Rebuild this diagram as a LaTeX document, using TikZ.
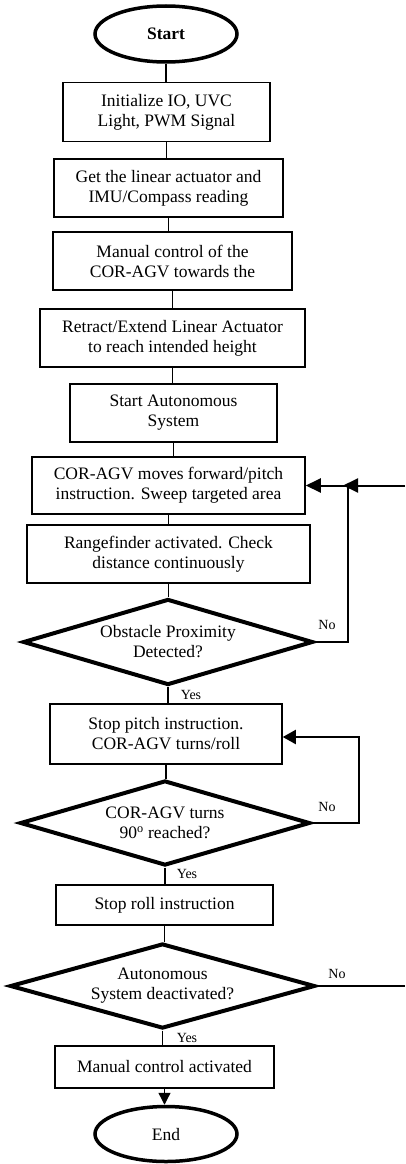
\documentclass[tikz,border=0pt]{standalone}
\usepackage{fontspec}
\setmainfont{Liberation Serif}
\usetikzlibrary{shapes.geometric,arrows.meta}

\begin{document}
\begin{tikzpicture}[x=1pt,y=-1pt,
  every node/.style={font=\fontsize{17.5}{20}\selectfont, align=center, inner sep=0pt},
  term/.style={ellipse, draw, line width=3.5pt, minimum width=142pt, minimum height=56pt},
  box/.style={rectangle, draw, line width=1.5pt, minimum height=58pt},
  decide/.style={diamond, draw, line width=4pt, aspect=3.4, minimum width=290pt, minimum height=86pt},
  conn/.style={line width=1.3pt},
  back/.style={line width=2pt},
  head/.style={-{Triangle[length=15pt,width=14pt]}},
  lbl/.style={font=\fontsize{14}{16}\selectfont}]
\useasboundingbox (0,0) rectangle (405,1164);

% main column
\node[term] (start) at (166,34) {\textbf{Start}};
\node[box, minimum width=207pt, minimum height=59pt] (init) at (166.5,112) {Initialize IO, UVC\\Light, PWM Signal};
\node[box, minimum width=229pt] (read) at (168.5,188) {Get the linear actuator and\\IMU/Compass reading};
\node[box, minimum width=239pt] (manual) at (172.5,261) {Manual control of the\\COR-AGV towards the};
\node[box, minimum width=265pt] (lift) at (172.5,338) {Retract/Extend Linear Actuator\\to reach intended height};
\node[box, minimum width=207pt] (auto) at (173.5,413) {Start Autonomous\\System};
\node[box, minimum width=273pt, minimum height=57pt] (sweep) at (168.5,485.5) {COR-AGV moves forward/pitch\\instruction. Sweep targeted area};
\node[box, minimum width=283pt] (range) at (168.5,554) {Rangefinder activated. Check\\distance continuously};
\node[decide] (obst) at (168,642) {Obstacle Proximity\\Detected?};
\node[box, minimum width=232pt, minimum height=60pt] (pitch) at (166,734) {Stop pitch instruction.\\COR-AGV turns/roll};
\node[decide, minimum height=85pt] (turn) at (165,823) {COR-AGV turns\\90\textsuperscript{o} reached?};
\node[box, minimum width=217pt, minimum height=40pt] (roll) at (164.5,905) {Stop roll instruction};
\node[decide, aspect=3.6, minimum width=305pt, minimum height=85pt] (deact) at (162.5,986) {Autonomous\\System deactivated?};
\node[box, minimum width=219pt, minimum height=42pt] (ctrl) at (164.5,1067) {Manual control activated};
\node[term, minimum height=55pt] (end) at (166,1134) {End};

\draw[conn] (start.south) -- (start.south |- init.north);
\draw[conn] (init.south) -- (init.south |- read.north);
\draw[conn] (read.south) -- (read.south |- manual.north);
\draw[conn] (manual.south) -- (manual.south |- lift.north);
\draw[conn] (lift.south) -- (lift.south |- auto.north);
\draw[conn] (auto.south) -- (auto.south |- sweep.north);
\draw[conn] (sweep.south) -- (sweep.south |- range.north);
\draw[conn] (range.south) -- (range.south |- obst.north);
\draw[conn] (obst.south) -- (obst.south |- pitch.north);
\draw[conn] (pitch.south) -- (pitch.south |- turn.north);
\draw[conn] (turn.south) -- (turn.south |- roll.north);
\draw[conn] (roll.south) -- (roll.south |- deact.north);
\draw[conn] (deact.south) -- (deact.south |- ctrl.north);
\draw[conn, -{Triangle[length=12pt,width=12pt]}] (ctrl.south) -- (ctrl.south |- end.north);

% loops back
\coordinate (j1) at (348,485.5);
\coordinate (out1) at (405,485.5);
\draw[back] (obst.east) -- (obst.east -| j1) -- (j1);
\draw[back, head] (j1) -- (sweep.east);
\draw[back, head] (out1) -- ([xshift=-5pt]j1);

\coordinate (j2) at (359,737);
\draw[back, -{Triangle[length=13pt,width=14pt]}] (turn.east) -- (turn.east -| j2) -- (j2) -- (j2 -| pitch.east);

\coordinate (out2) at (405,986);
\draw[conn] (deact.east) -- (out2);

% yes / no
\node[lbl] (no1) at (327,625) {No};
\node[lbl] (yes1) at (191,695) {Yes};
\node[lbl] (no2) at (327,807) {No};
\node[lbl] (yes2) at (187,874) {Yes};
\node[lbl] (no3) at (337,974) {No};
\node[lbl] (yes3) at (187,1038) {Yes};
\end{tikzpicture}
\end{document}
